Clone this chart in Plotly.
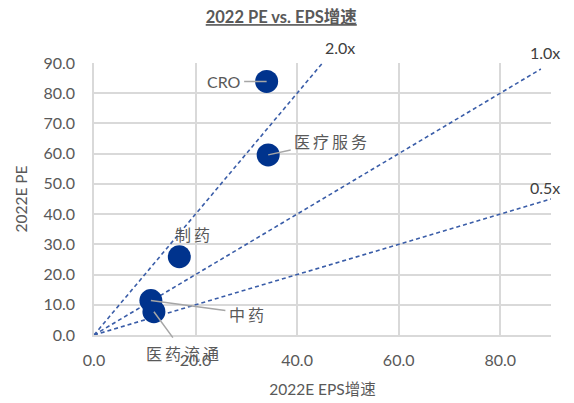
import plotly.graph_objects as go

# Sector valuation vs. earnings growth
sectors = ["CRO", "医疗服务", "制药", "中药", "医药流通"]
eps_growth = [34.0, 34.3, 16.8, 11.2, 11.8]   # 2022E EPS增速
pe_2022e = [83.9, 59.6, 25.9, 11.4, 7.7]      # 2022E PE

# Reference PEG lines (PE = k * growth)
peg_slopes = [2.0, 1.0, 0.5]
peg_end_x = [45.0, 88.0, 90.0]
peg_labels = ["2.0x", "1.0x", "0.5x"]

x_ticks = [0, 20, 40, 60, 80]
y_ticks = [0, 10, 20, 30, 40, 50, 60, 70, 80, 90]

GRAY = "#595959"
GRID = "#d9d9d9"
NAVY = "#00338d"
LINE = "#3a5da8"
CJK = "Noto Sans CJK SC"
LAT = "Lato, " + CJK

fig = go.Figure()

for k, xe in zip(peg_slopes, peg_end_x):
    fig.add_trace(go.Scatter(
        x=[0, xe], y=[0, k * xe], mode="lines",
        line=dict(color=LINE, width=1.6, dash="4px,3px"),
        hoverinfo="skip", showlegend=False,
    ))

fig.add_trace(go.Scatter(
    x=eps_growth, y=pe_2022e, mode="markers",
    marker=dict(color=NAVY, size=23, line=dict(width=0)),
    text=sectors, showlegend=False,
))

# Label placement offsets (pixels) for each sector: ax, ay, leader visible
label_offsets = {
    "CRO": (-43, 0, True),
    "医疗服务": (64, -14, True),
    "制药": (15, -23, False),
    "中药": (97, 13, True),
    "医药流通": (30, 41, True),
}
for name, xv, yv in zip(sectors, eps_growth, pe_2022e):
    ax, ay, leader = label_offsets[name]
    txt = name if name == "CRO" else f'<span style="letter-spacing:3px">{name}</span>'
    fig.add_annotation(
        x=xv, y=yv, xref="x", yref="y", text=txt,
        showarrow=True, ax=ax, ay=ay, arrowhead=0, arrowwidth=1.5,
        arrowcolor="#a6a6a6" if leader else "rgba(0,0,0,0)",
        standoff=0, startstandoff=2,
        font=dict(family=LAT if name == "CRO" else CJK, size=16, color=GRAY),
    )

label_shifts = [(17, 16), (4, 17), (-6, 12)]
for k, xe, lab, (dx, dy) in zip(peg_slopes, peg_end_x, peg_labels, label_shifts):
    fig.add_annotation(
        x=xe, y=k * xe, xref="x", yref="y", text=lab, showarrow=False,
        xshift=dx, yshift=dy,
        font=dict(family=LAT, size=16, color="#404040"),
    )

fig.update_layout(
    width=574, height=403,
    margin=dict(l=94, r=23, t=63, b=68),
    paper_bgcolor="white", plot_bgcolor="white",
    title=dict(
        text="<b><u>2022 PE vs. EPS增速</u></b>",
        x=0.49, xanchor="center", y=0.957, yanchor="middle",
        font=dict(family=LAT, size=16.5, color=GRAY),
    ),
    xaxis=dict(
        range=[0, 90], tickvals=x_ticks, ticktext=[f"{v:.1f}" for v in x_ticks],
        showgrid=True, gridcolor=GRID, gridwidth=1.5,
        showline=True, linecolor=GRID, linewidth=1.5, zeroline=False,
        ticks="", ticklabelstandoff=10, automargin=False,
        tickfont=dict(family=LAT, size=16, color=GRAY),
        title=dict(text="2022E EPS增速", standoff=16,
                   font=dict(family=LAT, size=15.5, color=GRAY)),
    ),
    yaxis=dict(
        range=[0, 90], tickvals=y_ticks, ticktext=[f"{v:.1f}" for v in y_ticks],
        showgrid=True, gridcolor=GRID, gridwidth=1.5,
        showline=True, linecolor=GRID, linewidth=1.5, zeroline=False,
        ticks="", ticklabelstandoff=14, automargin=False,
        tickfont=dict(family=LAT, size=16, color=GRAY),
        title=dict(text="2022E PE", standoff=12,
                   font=dict(family=LAT, size=15.5, color=GRAY)),
    ),
)

fig.write_html("out.html")
